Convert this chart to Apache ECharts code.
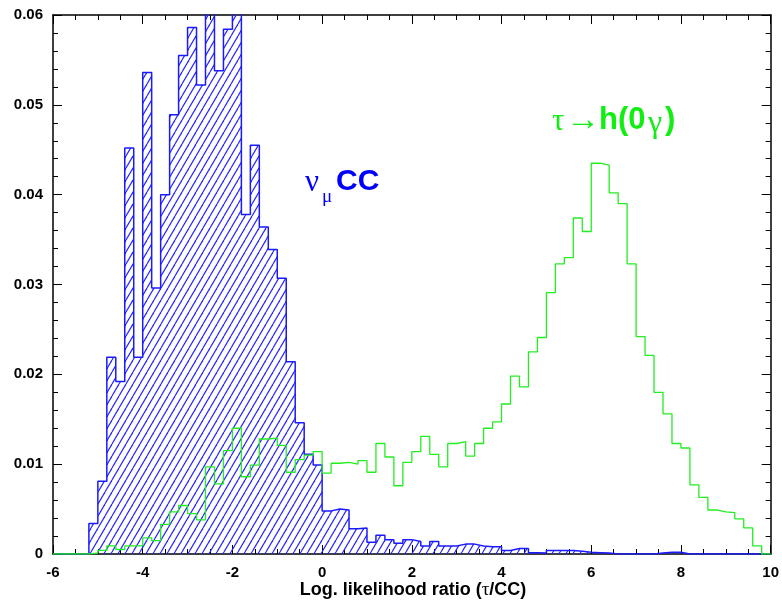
<!DOCTYPE html>
<html>
<head>
<meta charset="utf-8">
<script src="https://cdn.jsdelivr.net/npm/echarts@6/dist/echarts.min.js"></script>
<style>
  html, body { margin: 0; padding: 0; background: #fff; }
  #chart { width: 782px; height: 609px; }
</style>
</head>
<body>
<div id="chart"></div>
<script>
// histogram binning: 80 bins of 0.2 from -6 to 10
const binStart = -6;
const binWidth = 0.2;

// nu_mu CC (blue, hatched)
const numuCC = [
  0, 0, 0, 0, 0.0034, 0.0081, 0.0219, 0.0192, 0.0452, 0.0219,
  0.0536, 0.0296, 0.0400, 0.0489, 0.0555, 0.0586, 0.0522, 0.0625, 0.0538, 0.0584,
  0.0612, 0.0378, 0.0455, 0.0364, 0.0339, 0.0307, 0.0214, 0.0146, 0.0111, 0.0099,
  0.0048, 0.0050, 0.0049, 0.0028, 0.0029, 0.0013, 0.0021, 0.0016, 0.0012, 0.0016,
  0.0014, 0.0009, 0.0014, 0.0009, 0.0009, 0.0011, 0.0011, 0.0009, 0.0008, 0.0008,
  0.0004, 0.0006, 0.0006, 0.00015, 0.0001, 0.0004, 0.0004, 0.0004, 0.0003, 0.0002,
  0.00015, 0.0001, 0, 0, 0, 0, 0, 0.0001, 0.0002, 0.0002,
  0, 0, 0, 0, 0, 0, 0, 0, 0, 0
];

// tau -> h(0 gamma) (green outline)
const tauHad = [
  0, 0, 0, 0, 0.0001, 0.0004, 0.0009, 0.0005, 0.0009, 0.0009,
  0.0018, 0.0015, 0.0033, 0.0047, 0.0054, 0.0045, 0.0038, 0.0097, 0.0078, 0.0115,
  0.0140, 0.0086, 0.0099, 0.0128, 0.0129, 0.0121, 0.0091, 0.0105, 0.0110, 0.0114,
  0.0090, 0.0101, 0.0102, 0.0100, 0.0104, 0.0091, 0.0123, 0.0108, 0.0076, 0.0102,
  0.0114, 0.0131, 0.0111, 0.0097, 0.0123, 0.0125, 0.0109, 0.0123, 0.0140, 0.0147,
  0.0167, 0.0198, 0.0186, 0.0225, 0.0241, 0.0291, 0.0323, 0.0330, 0.0374, 0.0359,
  0.0435, 0.0433, 0.0402, 0.0390, 0.0323, 0.0242, 0.0221, 0.0180, 0.0156, 0.0123,
  0.0118, 0.0077, 0.0063, 0.0049, 0.0047, 0.0046, 0.0039, 0.0029, 0.0009, 0
];

const SANS = 'Liberation Sans';
const SERIF = 'Liberation Serif';
const BLUE = '#0000ff';
const GREEN = '#11ee11';

// bin edges -> step points (left edge, value), closed at the right edge
function stepData(values) {
  const pts = values.map((v, i) => [+(binStart + i * binWidth).toFixed(2), v]);
  const end = +(binStart + values.length * binWidth).toFixed(2);
  pts.push([end, values[values.length - 1]]);
  pts.push([end, 0]);
  return pts;
}

// diagonal hatch tile
function hatch() {
  const c = document.createElement('canvas');
  c.width = 7;
  c.height = 12;
  const ctx = c.getContext('2d');
  ctx.strokeStyle = '#2626ff';
  ctx.lineWidth = 1.2;
  [-7, 0, 7].forEach(dx => {
    ctx.beginPath();
    ctx.moveTo(dx, 12);
    ctx.lineTo(dx + 7, 0);
    ctx.stroke();
  });
  return c;
}

// small text helper for the in-plot labels
function label(x, y, text, size, family, weight, color) {
  return {
    type: 'text',
    style: {
      x: x, y: y, text: text,
      fontSize: size, fontFamily: family, fontWeight: weight,
      fill: color, verticalAlign: 'middle'
    }
  };
}

function axisBase(splitNumber) {
  return {
    axisLine: { show: true, onZero: false, lineStyle: { color: '#000', width: 1.5 } },
    axisTick: { show: true, inside: true, length: 9, lineStyle: { color: '#000', width: 1 } },
    minorTick: { show: true, splitNumber: splitNumber, length: 5, lineStyle: { color: '#000', width: 1 } },
    splitLine: { show: false }
  };
}

const chart = echarts.init(document.getElementById('chart'));

const option = {
  animation: false,
  backgroundColor: '#fff',
  grid: { left: 53, right: 9, top: 15, bottom: 55 },
  xAxis: [
    Object.assign(axisBase(4), {
      type: 'value', min: -6, max: 10, interval: 2, position: 'bottom',
      axisLabel: { margin: 11, color: '#000', fontSize: 15, fontWeight: 'bold', fontFamily: SANS }
    }),
    Object.assign(axisBase(4), {
      type: 'value', min: -6, max: 10, interval: 2, position: 'top',
      axisLabel: { show: false }
    })
  ],
  yAxis: [
    Object.assign(axisBase(5), {
      type: 'value', min: 0, max: 0.06, interval: 0.01, position: 'left',
      axisLabel: {
        margin: 10, color: '#000', fontSize: 15, fontWeight: 'bold', fontFamily: SANS,
        formatter: v => v === 0 ? '0' : v.toFixed(2)
      }
    }),
    Object.assign(axisBase(5), {
      type: 'value', min: 0, max: 0.06, interval: 0.01, position: 'right',
      axisLabel: { show: false }
    })
  ],
  series: [
    {
      name: 'numuCC',
      type: 'line',
      step: 'end',
      symbol: 'none',
      data: stepData(numuCC),
      lineStyle: { color: '#1a1aff', width: 1.5 },
      areaStyle: { color: { image: hatch(), repeat: 'repeat' }, opacity: 1 },
      z: 2
    },
    {
      name: 'tauHad',
      type: 'line',
      step: 'end',
      symbol: 'none',
      data: stepData(tauHad),
      lineStyle: { color: '#22ee22', width: 1.3 },
      z: 3
    }
  ],
  graphic: [
    // nu_mu CC label
    label(305, 183, 'ν', 31, SERIF, 'normal', BLUE),
    label(322, 197, 'μ', 19, SERIF, 'normal', BLUE),
    label(336, 182, 'CC', 30, SANS, 'bold', BLUE),
    // tau -> h(0 gamma) label
    label(552, 122, 'τ', 31, SERIF, 'normal', GREEN),
    label(566, 121, '→', 34, SERIF, 'normal', GREEN),
    label(599, 120, 'h(0', 31, SANS, 'bold', GREEN),
    label(648, 124, 'γ', 32, SERIF, 'normal', GREEN),
    label(665, 120, ')', 31, SANS, 'bold', GREEN),
    // x axis title
    {
      type: 'text',
      style: {
        x: 413, y: 590, align: 'center', verticalAlign: 'middle',
        text: '{a|Log. likelihood ratio (}{b|τ}{a|/CC)}',
        rich: {
          a: { fontSize: 18, fontWeight: 'bold', fontFamily: SANS, fill: '#000' },
          b: { fontSize: 19, fontFamily: SERIF, fill: '#000' }
        }
      }
    }
  ]
};

chart.setOption(option);
</script>
</body>
</html>
